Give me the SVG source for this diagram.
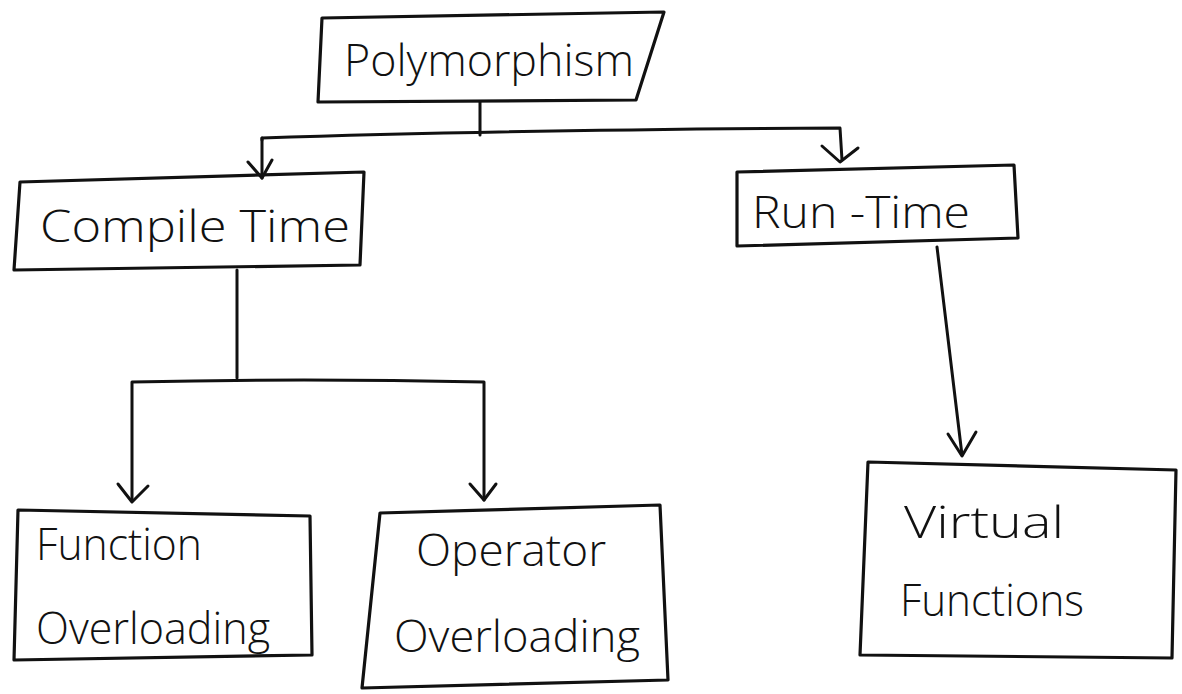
<svg xmlns="http://www.w3.org/2000/svg" width="1182" height="694" viewBox="0 0 1182 694">
<style>
.box{fill:none;stroke:#111;stroke-width:3.2;stroke-linejoin:round}
.ln{fill:none;stroke:#111;stroke-width:3;stroke-linecap:round;stroke-linejoin:round}
.t{font-family:"Open Sans","Liberation Sans",sans-serif;font-weight:300;font-size:44px;fill:#111}
</style>
<rect width="1182" height="694" fill="#fff"/>
<g id="connectors">
<path class="ln" d="M480,102 L480,135"/>
<path class="ln" d="M262,140 L262,138 Q500,130 840,128 L842,160"/>
<path class="ln" d="M262,138 L262,178"/>
<path class="ln" d="M248,162 L262,178 L272,160"/>
<path class="ln" d="M822,146 L840,162 L858,148"/>
<path class="ln" d="M237,270 L237,378"/>
<path class="ln" d="M132,500 L132,382 Q300,378 484,382 L484,500"/>
<path class="ln" d="M118,484 L132,502 L148,486"/>
<path class="ln" d="M470,484 L484,500 L496,484"/>
<path class="ln" d="M937,247 L962,455"/>
<path class="ln" d="M948,434 L962,456 L976,432"/>
</g>
<g id="polymorphism">
<path class="box" d="M322,18 L664,12 L636,100 L318,102 Z"/>
<text class="t" x="344" y="76" textLength="290" lengthAdjust="spacingAndGlyphs">Polymorphism</text>
</g>
<g id="compile-time">
<path class="box" d="M20,182 L364,172 L360,265 L14,270 Z"/>
<text class="t" x="40" y="242" textLength="310" lengthAdjust="spacingAndGlyphs">Compile  Time</text>
</g>
<g id="run-time">
<path class="box" d="M737,172 L1014,165 L1018,238 L737,246 Z"/>
<text class="t" x="752" y="228" textLength="218" lengthAdjust="spacingAndGlyphs">Run -Time</text>
</g>
<g id="function-overloading">
<path class="box" d="M18,510 L310,516 L312,655 L14,660 Z"/>
<text class="t" x="36" y="560" textLength="166" lengthAdjust="spacingAndGlyphs">Function</text>
<text class="t" x="36" y="644" textLength="234" lengthAdjust="spacingAndGlyphs">Overloading</text>
</g>
<g id="operator-overloading">
<path class="box" d="M380,513 L660,505 L668,680 L362,688 Z"/>
<text class="t" x="416" y="566" textLength="190" lengthAdjust="spacingAndGlyphs">Operator</text>
<text class="t" x="394" y="652" textLength="246" lengthAdjust="spacingAndGlyphs">Overloading</text>
</g>
<g id="virtual-functions">
<path class="box" d="M868,462 L1176,470 L1172,658 L860,655 Z"/>
<text class="t" x="904" y="538" textLength="160" lengthAdjust="spacingAndGlyphs">Virtual</text>
<text class="t" x="900" y="616" textLength="184" lengthAdjust="spacingAndGlyphs">Functions</text>
</g>
</svg>
